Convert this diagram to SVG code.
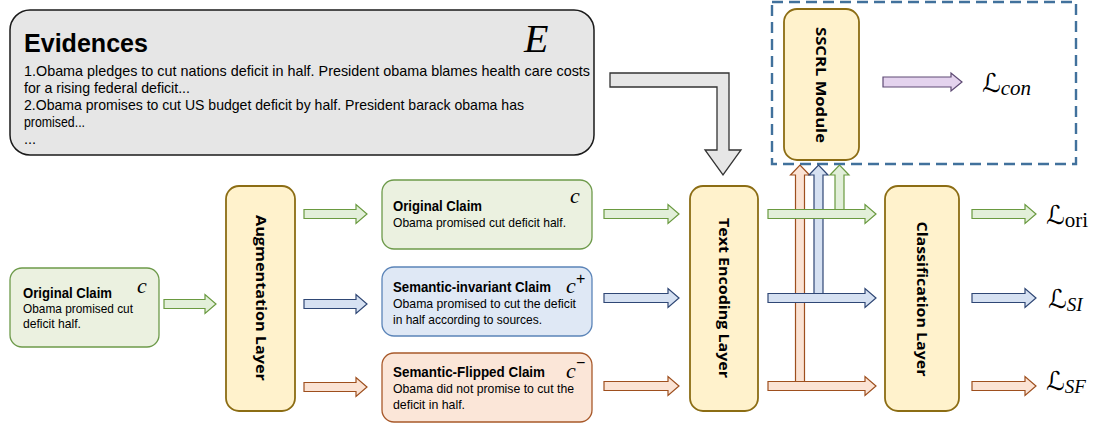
<svg xmlns="http://www.w3.org/2000/svg" width="1097" height="427" viewBox="0 0 1097 427">
<style>
.ev{fill:#e6e6e6;stroke:#1a1a1a;stroke-width:1.5}
.layer{fill:#fff2cc;stroke:#8c6d14;stroke-width:1.8}
.gbox{fill:#ebf1e0;stroke:#6d9a4a;stroke-width:1.3}
.bbox{fill:#dfe8f5;stroke:#5b84b8;stroke-width:1.3}
.obox{fill:#fbe6d8;stroke:#a8592a;stroke-width:1.3}
.ga{fill:#e2efd9;stroke:#6a9a40;stroke-width:1.2}
.ba{fill:#d6e1f2;stroke:#2f4775;stroke-width:1.2}
.oa{fill:#fbe3d4;stroke:#9e4f1e;stroke-width:1.2}
.pa{fill:#e4d3ee;stroke:#5e4a74;stroke-width:1.2}
.t{font-family:"Liberation Sans",Arial,sans-serif;fill:#000}
.evt{font-size:14.5px}
.title{font-weight:bold;font-size:14px}
.body{font-size:13px}
.vt{font-family:"Open Sans","Liberation Sans",sans-serif;font-weight:bold;font-size:14.5px;fill:#000}
.m{font-family:"Liberation Serif","DejaVu Serif",serif;font-style:italic;fill:#000}
.L{font-family:"DejaVu Serif","DejaVu Sans",serif;fill:#000}
</style>

<g id="evidences">
<rect class="ev" x="10" y="10" width="584" height="145" rx="20"/>
<text class="t" x="24" y="52" font-size="26" font-weight="bold" textLength="124" lengthAdjust="spacingAndGlyphs">Evidences</text>
<text class="m" x="524" y="52" font-size="40">E</text>
<text class="t evt" x="24" y="76" textLength="566" lengthAdjust="spacingAndGlyphs">1.Obama pledges to cut nations deficit in half. President obama blames health care costs</text>
<text class="t evt" x="24" y="93" textLength="166" lengthAdjust="spacingAndGlyphs">for a rising federal deficit...</text>
<text class="t evt" x="24" y="110" textLength="500" lengthAdjust="spacingAndGlyphs">2.Obama promises to cut US budget deficit by half.  President barack obama has</text>
<text class="t evt" x="24" y="127" textLength="61" lengthAdjust="spacingAndGlyphs">promised...</text>
<text class="t evt" x="24" y="144">...</text>
</g>

<g id="claim-left">
<rect class="gbox" x="10" y="268" width="149" height="79" rx="12"/>
<text class="t title" x="23" y="298" textLength="89" lengthAdjust="spacingAndGlyphs">Original Claim</text>
<text class="t body" x="23" y="313" textLength="110" lengthAdjust="spacingAndGlyphs">Obama promised cut</text>
<text class="t body" x="23" y="328" textLength="58" lengthAdjust="spacingAndGlyphs">deficit half.</text>
<text class="m" x="137" y="293" font-size="22">c</text>
</g>

<g id="augmentation-layer">
<rect class="layer" x="226" y="186" width="69" height="225" rx="13"/>
<text class="vt" transform="translate(256,298) rotate(90)" text-anchor="middle" textLength="166" lengthAdjust="spacingAndGlyphs">Augmentation Layer</text>
</g>

<g id="claim-original">
<rect class="gbox" x="382" y="180" width="210" height="69" rx="12"/>
<text class="t title" x="393" y="211" textLength="89" lengthAdjust="spacingAndGlyphs">Original Claim</text>
<text class="t body" x="393" y="227" textLength="173" lengthAdjust="spacingAndGlyphs">Obama promised cut deficit half.</text>
<text class="m" x="570" y="203" font-size="22">c</text>
</g>

<g id="claim-invariant">
<rect class="bbox" x="382" y="267" width="210" height="69" rx="12"/>
<text class="t title" x="393" y="292" textLength="158" lengthAdjust="spacingAndGlyphs">Semantic-invariant Claim</text>
<text class="t body" x="393" y="308" textLength="183" lengthAdjust="spacingAndGlyphs">Obama promised to cut the deficit</text>
<text class="t body" x="393" y="324" textLength="149" lengthAdjust="spacingAndGlyphs">in half according to sources.</text>
<text class="m" x="566" y="293" font-size="22">c</text>
<text class="t" x="576" y="284" font-size="16">+</text>
</g>

<g id="claim-flipped">
<rect class="obox" x="382" y="353" width="210" height="69" rx="12"/>
<text class="t title" x="393" y="377" textLength="152" lengthAdjust="spacingAndGlyphs">Semantic-Flipped  Claim</text>
<text class="t body" x="393" y="393" textLength="181" lengthAdjust="spacingAndGlyphs">Obama did not promise to cut the</text>
<text class="t body" x="393" y="409" textLength="72" lengthAdjust="spacingAndGlyphs">deficit in half.</text>
<text class="m" x="566" y="378" font-size="22">c</text>
<text class="t" x="576" y="368" font-size="16">−</text>
</g>

<g id="text-encoding-layer">
<rect class="layer" x="690" y="186" width="68" height="225" rx="13"/>
<text class="vt" transform="translate(719,298) rotate(90)" text-anchor="middle" textLength="160" lengthAdjust="spacingAndGlyphs">Text Encoding Layer</text>
</g>

<g id="sscrl-module">
<rect class="layer" x="784" y="9" width="75" height="151" rx="13"/>
<text class="vt" transform="translate(816,85) rotate(90)" text-anchor="middle" textLength="116" lengthAdjust="spacingAndGlyphs">SSCRL Module</text>
</g>

<g id="classification-layer">
<rect class="layer" x="885" y="186" width="74" height="225" rx="13"/>
<text class="vt" transform="translate(917,299) rotate(90)" text-anchor="middle" textLength="155" lengthAdjust="spacingAndGlyphs">Classification Layer</text>
</g>

<g id="sscrl-boundary">
<rect x="772" y="2" width="304" height="162" fill="none" stroke="#41719c" stroke-width="2.4" stroke-dasharray="11,6"/>
</g>

<g id="connectors">
<path fill="#e6e6e6" stroke="#333" stroke-width="1.3" d="M610,73 L729,73 L729,150 L741,150 L723,175 L705,150 L717,150 L717,87 L610,87 Z"/>
<path class="oa" d="M795.5,386 L795.5,175 L790.5,175 L800,165 L809.5,175 L804.5,175 L804.5,386 Z"/>
<path class="ba" d="M814,298 L814,175 L809,175 L818.5,165 L828,175 L823,175 L823,298 Z"/>
<path class="ga" d="M835,214 L835,175 L830,175 L839.5,165 L849,175 L844,175 L844,214 Z"/>
<path class="ga" d="M164,299.5 L205,299.5 L205,294.5 L216,304 L205,313.5 L205,308.5 L164,308.5 Z"/>
<path class="ga" d="M304,209.5 L356,209.5 L356,204.5 L367,214 L356,223.5 L356,218.5 L304,218.5 Z"/>
<path class="ba" d="M304,299.5 L356,299.5 L356,294.5 L367,304 L356,313.5 L356,308.5 L304,308.5 Z"/>
<path class="oa" d="M304,382.5 L356,382.5 L356,377.5 L367,387 L356,396.5 L356,391.5 L304,391.5 Z"/>
<path class="ga" d="M604,209.5 L668,209.5 L668,204.5 L679,214 L668,223.5 L668,218.5 L604,218.5 Z"/>
<path class="ba" d="M604,293.5 L668,293.5 L668,288.5 L679,298 L668,307.5 L668,302.5 L604,302.5 Z"/>
<path class="oa" d="M604,381.5 L668,381.5 L668,376.5 L679,386 L668,395.5 L668,390.5 L604,390.5 Z"/>
<path class="ga" d="M768,209.5 L865,209.5 L865,204.5 L876,214 L865,223.5 L865,218.5 L768,218.5 Z"/>
<path class="ba" d="M768,293.5 L865,293.5 L865,288.5 L876,298 L865,307.5 L865,302.5 L768,302.5 Z"/>
<path class="oa" d="M768,381.5 L865,381.5 L865,376.5 L876,386 L865,395.5 L865,390.5 L768,390.5 Z"/>
<path class="ga" d="M972,209.5 L1025,209.5 L1025,204.5 L1036,214 L1025,223.5 L1025,218.5 L972,218.5 Z"/>
<path class="ba" d="M972,293.5 L1025,293.5 L1025,288.5 L1036,298 L1025,307.5 L1025,302.5 L972,302.5 Z"/>
<path class="oa" d="M972,381.5 L1025,381.5 L1025,376.5 L1036,386 L1025,395.5 L1025,390.5 L972,390.5 Z"/>
<path class="pa" d="M883,77 L951,77 L951,73 L962,82 L951,91 L951,87 L883,87 Z"/>
</g>

<g id="losses">
<text x="982" y="92"><tspan class="L" font-size="26">ℒ</tspan><tspan class="m" font-size="21" dy="3">con</tspan></text>
<text x="1046" y="224"><tspan class="L" font-size="26">ℒ</tspan><tspan font-family="Liberation Serif,serif" font-size="21" dy="3">ori</tspan></text>
<text x="1048" y="308"><tspan class="L" font-size="26">ℒ</tspan><tspan class="m" font-size="19" dy="3">SI</tspan></text>
<text x="1046" y="390"><tspan class="L" font-size="26">ℒ</tspan><tspan class="m" font-size="19" dy="3">SF</tspan></text>
</g>
</svg>
